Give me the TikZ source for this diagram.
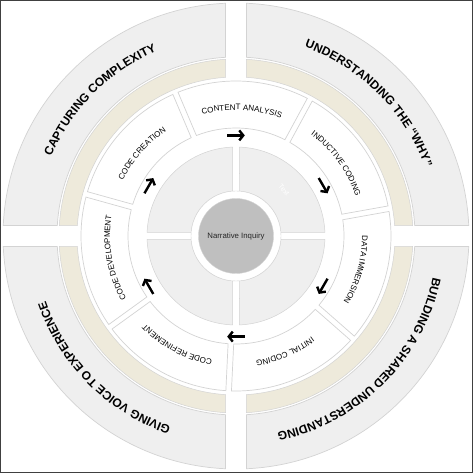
\documentclass[tikz,border=0pt]{standalone}
\usepackage{fontspec}
\setmainfont{Liberation Sans}
\usetikzlibrary{arrows.meta,decorations.text}
\definecolor{bandgray}{HTML}{EFEFEF}
\definecolor{bandbeige}{HTML}{EEEADB}
\definecolor{edgegray}{HTML}{D3D3D3}
\definecolor{hubgray}{HTML}{BFBFBF}

% style, start angle, end angle, inner radius, outer radius, half gap
\newcommand{\blockarc}[6]{%
  \draw[#1] ({#2+asin(#6/#4)}:#4) -- ({#2+asin(#6/#5)}:#5)
    arc[start angle={#2+asin(#6/#5)}, end angle={#3-asin(#6/#5)}, radius=#5]
    -- ({#3-asin(#6/#4)}:#4)
    arc[start angle={#3-asin(#6/#4)}, end angle={#2+asin(#6/#4)}, radius=#4] -- cycle;}

\begin{document}
\begin{tikzpicture}[
    x=1pt, y=1pt,
    outerband/.style={fill=bandgray, draw=edgegray, line width=0.7pt},
    accentband/.style={fill=bandbeige, draw=edgegray, line width=0.5pt},
    stepband/.style={fill=white, draw=edgegray, line width=0.7pt},
    innerband/.style={fill=bandgray, draw=edgegray, line width=0.5pt},
    flow/.style={line width=2.4pt, -{Straight Barb[length=4pt, width=10pt]}},
    themelabel/.style={decorate, decoration={text along path, text align=center, text={|\fontsize{12}{14}\selectfont\bfseries|#1}}},
    steplabel/.style={decorate, decoration={text along path, text align=center, text={|\fontsize{8}{10}\selectfont|#1}}}
  ]
    \useasboundingbox (-236,-237) rectangle (237,236);

    \foreach \q in {0,90,180,270} {
      \blockarc{outerband}{\q}{\q+90}{179}{233}{10.5}
      \blockarc{accentband}{\q}{\q+90}{159}{177}{10.5}
      \blockarc{innerband}{\q}{\q+90}{45}{89}{3.5}
    }
    \foreach \k in {0,...,6}
      \blockarc{stepband}{113-51.4286*(\k+1)}{113-51.4286*\k}{108}{155}{2.8};

    \path[themelabel=CAPTURING COMPLEXITY] (175:201) arc[start angle=175, end angle=95, radius=201];
    \path[themelabel=UNDERSTANDING THE “WHY”] (85:201) arc[start angle=85, end angle=5, radius=201];
    \path[themelabel=BUILDING A SHARED UNDERSTANDING] (-5:201) arc[start angle=-5, end angle=-85, radius=201];
    \path[themelabel=GIVING VOICE TO EXPERIENCE] (-95:201) arc[start angle=-95, end angle=-175, radius=201];

    \path[steplabel=CONTENT ANALYSIS] (111.3:126) arc[start angle=111.3, end angle=63.3, radius=126];
    \path[steplabel=INDUCTIVE CODING] (59.9:126) arc[start angle=59.9, end angle=11.9, radius=126];
    \path[steplabel=DATA IMMERSION] (8.4:126) arc[start angle=8.4, end angle=-39.6, radius=126];
    \path[steplabel=INITIAL CODING] (-43:126) arc[start angle=-43, end angle=-91, radius=126];
    \path[steplabel=CODE REFINEMENT] (-94.4:126) arc[start angle=-94.4, end angle=-142.4, radius=126];
    \path[steplabel=CODE DEVELOPMENT] (214.1:126) arc[start angle=214.1, end angle=166.1, radius=126];
    \path[steplabel=CODE CREATION] (162.7:126) arc[start angle=162.7, end angle=114.7, radius=126];

    \foreach \a [count=\i] in {90,30,-30,-90,-150,150} {
      \coordinate (tail\i) at ({\a+5}:101);
      \coordinate (head\i) at ({\a-5}:101);
      \draw[flow] (tail\i) -- (head\i);
    }

    \node[circle, fill=white, draw=edgegray, minimum size=90pt, inner sep=0pt] (hubring) at (0,0) {};
    \node[circle, fill=hubgray, draw=edgegray, minimum size=75pt, inner sep=0pt,
          font=\fontsize{7.8}{9}\selectfont, text=black!85] (hub) at (0,0) {Narrative Inquiry};
    \node[text=white, font=\fontsize{7}{8}\selectfont, rotate=-50] (placeholder) at (48,46) {Text};

    \draw[black!75, line width=1pt] (-235.5,-236.5) rectangle (236.5,235.5);
  \end{tikzpicture}
\end{document}
